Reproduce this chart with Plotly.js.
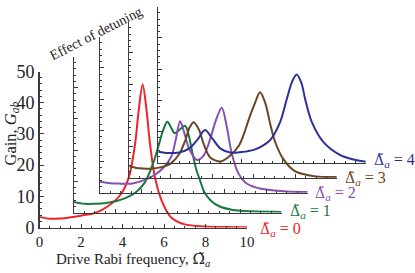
<!DOCTYPE html>
<html>
<head>
<meta charset="utf-8">
<script src="https://cdn.plot.ly/plotly-3.0.1.min.js"></script>
<style>
  html, body { margin: 0; padding: 0; background: #fff; }
  #chart { width: 415px; height: 273px; }
</style>
</head>
<body>
<div id="chart"></div>
<script>
// ---------- data ----------
const detuningValues = [0, 1, 2, 3, 4];

const redX = [0, 0.5, 1, 1.5, 2, 2.7, 3.3, 3.9, 4.3, 4.6, 4.78, 4.97, 5.16, 5.33, 5.57, 5.9, 6.35, 7, 8, 9, 10];
const redY = [3.4, 2.8, 2.9, 3.3, 3.8, 4.7, 6.8, 10.5, 16, 26.5, 37.5, 45.8, 37.5, 26.5, 15.9, 8.4, 3.2, 1.0, 0.35, 0.15, 0.1];

const greenX = [0, 0.5, 1, 1.5, 2, 2.5, 3, 3.4, 3.8, 4.1, 4.3, 4.5, 4.67, 4.85, 5.05, 5.35, 5.52, 5.68, 5.9, 6.07, 6.3, 6.6, 7, 7.6, 8.5, 10];
const greenY = [3.4, 2.8, 2.8, 3.0, 3.6, 4.7, 6.6, 9.5, 15.5, 22, 26.5, 29.1, 27.3, 25.4, 26.3, 27.8, 25, 20, 13.6, 10.4, 6.3, 3.8, 2.0, 0.9, 0.4, 0.2];

const purpleX = [0, 0.5, 1, 1.5, 2.2, 2.7, 3.05, 3.45, 3.65, 3.86, 4.05, 4.3, 4.68, 5.0, 5.3, 5.6, 5.87, 6.1, 6.35, 6.67, 7, 7.5, 8, 9, 10];
const purpleY = [3.5, 3.0, 2.9, 2.9, 4.2, 6.0, 8.0, 11.8, 17, 22.9, 19.5, 14, 10.5, 12, 17, 23.5, 27.2, 21.5, 12.6, 6.2, 3.3, 1.7, 1.0, 0.4, 0.2];

const brownX = [0, 0.5, 1, 1.5, 2, 2.4, 2.7, 2.9, 3.1, 3.35, 3.6, 3.9, 4.4, 4.85, 5.3, 5.55, 5.8, 6.05, 6.3, 6.55, 6.8, 7.0, 7.4, 8.0, 9.0, 10];
const brownY = [3.7, 3.0, 2.9, 3.3, 4.6, 7.5, 12, 16, 17.8, 15.5, 10.5, 6.5, 5.2, 7, 10.5, 14.5, 19.5, 23.8, 27.4, 24, 17, 12, 6.2, 2.0, 0.4, 0.2];

const blueX = [0, 0.5, 1, 1.5, 1.9, 2.25, 2.6, 3.0, 3.5, 4.0, 4.6, 5.0, 5.4, 5.87, 6.2, 6.45, 6.67, 6.9, 7.07, 7.4, 7.95, 8.75, 9.3, 10];
const blueY = [3.5, 3.1, 3.3, 4.6, 7.5, 10.5, 7.8, 4.5, 3.2, 3.4, 4.1, 5.3, 7.3, 13, 20.6, 26, 28.3, 25.5, 20.6, 13, 6.7, 2.5, 1.2, 0.3];

const xTickVals = [0, 2, 4, 6, 8, 10];
const yTickVals = [0, 10, 20, 30, 40, 50];

// ---------- layout helpers ----------
const W = 415, H = 273;
const colors = ["#ee2328", "#167a3e", "#8a4fb2", "#6b4522", "#2b3199"];
const origins = [[39.5, 227.5], [74, 212.5], [100, 192.7], [129.3, 177.7], [158.3, 162.7]];
const frameW = 207.5, frameH = 156;
const labelPos = [[258, 229], [288, 211.5], [313, 193], [343, 178], [372, 160]];
const serif = "Liberation Serif, Times New Roman, serif";
const tildeStyle = "font-family:DejaVu Serif;font-size:14px";
const axisColor = "#3a3a3a";

const xs = [redX, greenX, purpleX, brownX, blueX];
const ys = [redY, greenY, purpleY, brownY, blueY];

const px = v => v / W;
const py = v => 1 - v / H;

const traces = [];
const layout = {
  width: W, height: H,
  margin: {l: 0, r: 0, t: 0, b: 0},
  paper_bgcolor: "#ffffff",
  plot_bgcolor: "rgba(0,0,0,0)",
  showlegend: false,
  annotations: []
};

for (let i = 0; i < 5; i++) {
  const sfx = i === 0 ? "" : String(i + 1);
  traces.push({
    x: xs[i], y: ys[i],
    xaxis: "x" + sfx, yaxis: "y" + sfx,
    type: "scatter", mode: "lines",
    line: {color: colors[i], width: 2, shape: "spline", smoothing: 0.9},
    hoverinfo: "skip"
  });
  const [ox, oy] = origins[i];
  const main = i === 0;
  layout["xaxis" + sfx] = {
    domain: [px(ox), px(ox + frameW)],
    anchor: "y" + sfx,
    range: [0, 10],
    showgrid: false, zeroline: false,
    showline: true, linecolor: axisColor, linewidth: 1.4,
    ticks: "inside", ticklen: 4, tickwidth: 1, tickcolor: axisColor,
    tickvals: xTickVals,
    minor: {dtick: 0.5, ticks: "inside", ticklen: 2, tickwidth: 1, tickcolor: axisColor},
    showticklabels: main,
    tickfont: {family: serif, size: 15, color: "#222"},
    fixedrange: true
  };
  layout["yaxis" + sfx] = {
    domain: [py(oy), py(oy - frameH)],
    anchor: "x" + sfx,
    range: [0, 50],
    showgrid: false, zeroline: false,
    showline: true, linecolor: axisColor, linewidth: 1.4,
    ticks: "inside", ticklen: 4, tickwidth: 1, tickcolor: axisColor,
    tickvals: yTickVals,
    minor: {dtick: 2, ticks: "inside", ticklen: 2, tickwidth: 1, tickcolor: axisColor},
    showticklabels: main,
    tickfont: {family: serif, size: 18, color: "#222"},
    fixedrange: true
  };
  layout.annotations.push({
    xref: "paper", yref: "paper",
    x: px(labelPos[i][0]), y: py(labelPos[i][1]),
    xanchor: "left", yanchor: "middle",
    text: '<span style="' + tildeStyle + '">Δ̃</span><sub><i>a</i></sub> = ' + detuningValues[i],
    showarrow: false,
    font: {family: serif, size: 16, color: colors[i]}
  });
}

layout.annotations.push({
  xref: "paper", yref: "paper",
  x: px(133), y: py(259), xanchor: "center", yanchor: "middle",
  text: 'Drive Rabi frequency, <span style="font-family:DejaVu Serif">Ω̃</span><sub><i>a</i></sub>', showarrow: false,
  font: {family: serif, size: 15, color: "#222"}
});
layout.annotations.push({
  xref: "paper", yref: "paper",
  x: px(10.5), y: py(134), xanchor: "center", yanchor: "middle",
  text: "Gain, <i>G</i><sub><i>ab</i></sub>", showarrow: false, textangle: -90,
  font: {family: serif, size: 16.5, color: "#222"}
});
layout.annotations.push({
  xref: "paper", yref: "paper",
  x: px(96), y: py(33), xanchor: "center", yanchor: "middle",
  text: "Effect of detuning", showarrow: false, textangle: -27,
  font: {family: serif, size: 14, color: "#222"}
});

Plotly.newPlot("chart", traces, layout, {staticPlot: true, displayModeBar: false});
</script>
</body>
</html>
